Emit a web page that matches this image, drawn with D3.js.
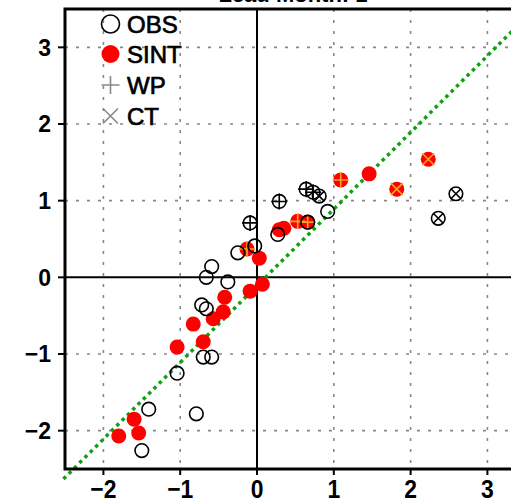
<!DOCTYPE html>
<html>
<head>
<meta charset="utf-8">
<script src="https://cdn.jsdelivr.net/npm/d3@7"></script>
<style>
  body { margin: 0; background: #fff; overflow: hidden; }
  text { font-family: "Liberation Sans", Arial, sans-serif; }
</style>
</head>
<body>
<div id="chart"></div>
<script>
// observed points: [x, y, marker]  ("" = none, "WP" = plus, "CT" = cross)
var obsX = [0.64, 0.73, 0.81, 0.29, 0.92, -0.09, 0.27, -0.03, -0.25, -0.59, -0.66, -0.38,
            -0.72, -0.66, -0.70, -0.59, -1.04, -1.41, -0.79, -1.50, 2.59, 2.36, 0.66];
var obsY = [1.15, 1.11, 1.06, 0.99, 0.86, 0.71, 0.56, 0.41, 0.32, 0.14, 0.00, -0.06,
            -0.36, -0.41, -1.04, -1.04, -1.25, -1.72, -1.78, -2.26, 1.09, 0.77, 0.72];
var obsMark = ["WP", "WP", "CT", "WP", "", "WP", "", "", "", "", "", "",
               "", "", "", "", "", "", "", "", "CT", "CT", ""];

var sintX = [-0.13, 0.03, 0.29, 0.35, 0.53, 0.66, 1.09, 1.46, 2.23, 1.82, -0.09, 0.07,
             -0.42, -0.44, -0.57, -0.83, -0.70, -1.04, -1.60, -1.54, -1.80];
var sintY = [0.37, 0.25, 0.62, 0.64, 0.73, 0.72, 1.27, 1.35, 1.54, 1.15, -0.18, -0.09,
             -0.26, -0.45, -0.54, -0.61, -0.84, -0.91, -1.85, -2.03, -2.07];
var sintMark = ["WP", "", "", "", "WP", "WP", "WP", "", "CT", "CT", "", "",
                "", "", "", "", "", "", "", "", ""];

var tickVals = [-2, -1, 0, 1, 2, 3];
var legendLabels = ["OBS", "SINT", "WP", "CT"];
var fitSlope = 1.0, fitIntercept = -0.11;
var fitRange = [-2.52, 3.6];
var title = "Lead Month: 1";

var W = 511, H = 502;
var svg = d3.select("#chart").append("svg")
  .attr("width", W).attr("height", H);

var x = d3.scaleLinear().domain([-2.5, 3.5]).range([65, 525.8]);
var y = d3.scaleLinear().domain([-2.5, 3.5]).range([469, 9]);

// title (mostly cut off at the top)
svg.append("text")
  .attr("x", 293).attr("y", 2)
  .attr("text-anchor", "middle")
  .attr("font-size", 22).attr("font-weight", "bold")
  .text(title);

// dotted grid
var grid = svg.append("g").attr("stroke", "#888").attr("stroke-width", 1.6)
  .attr("stroke-dasharray", "3,8");
grid.selectAll(".gx").data(tickVals.filter(function(d) { return d !== 0; }))
  .enter().append("line")
  .attr("x1", function(d) { return x(d); }).attr("x2", function(d) { return x(d); })
  .attr("y1", y(3.5)).attr("y2", y(-2.5));
grid.selectAll(".gy").data(tickVals.filter(function(d) { return d !== 0; }))
  .enter().append("line")
  .attr("y1", function(d) { return y(d); }).attr("y2", function(d) { return y(d); })
  .attr("x1", x(-2.5)).attr("x2", x(3.5));

// zero lines
svg.append("line").attr("x1", x(0)).attr("x2", x(0)).attr("y1", y(3.5)).attr("y2", y(-2.5))
  .attr("stroke", "#000").attr("stroke-width", 2);
svg.append("line").attr("y1", y(0)).attr("y2", y(0)).attr("x1", x(-2.5)).attr("x2", x(3.5))
  .attr("stroke", "#000").attr("stroke-width", 2);

// fit line
svg.append("line")
  .attr("x1", x(fitRange[0])).attr("y1", y(fitSlope * fitRange[0] + fitIntercept))
  .attr("x2", x(fitRange[1])).attr("y2", y(fitSlope * fitRange[1] + fitIntercept))
  .attr("stroke", "#10a010").attr("stroke-width", 3.5)
  .attr("stroke-dasharray", "3.5,4");

function plus(g, cx, cy, s, color) {
  g.append("path").attr("d", "M" + (cx - s) + "," + cy + "H" + (cx + s) + "M" + cx + "," + (cy - s) + "V" + (cy + s))
    .attr("stroke", color).attr("stroke-width", 1.6).attr("fill", "none");
}
function cross(g, cx, cy, s, color) {
  g.append("path").attr("d", "M" + (cx - s) + "," + (cy - s) + "L" + (cx + s) + "," + (cy + s) +
      "M" + (cx - s) + "," + (cy + s) + "L" + (cx + s) + "," + (cy - s))
    .attr("stroke", color).attr("stroke-width", 1.6).attr("fill", "none");
}

var pts = svg.append("g");
var sint = d3.range(sintX.length);
pts.selectAll(".sint").data(sint).enter().append("circle")
  .attr("cx", function(i) { return x(sintX[i]); })
  .attr("cy", function(i) { return y(sintY[i]); })
  .attr("r", 7.5).attr("fill", "#f00");
sint.forEach(function(i) {
  if (sintMark[i] === "WP") plus(pts, x(sintX[i]), y(sintY[i]), 8, "#f5a623");
  if (sintMark[i] === "CT") cross(pts, x(sintX[i]), y(sintY[i]), 6, "#f5a623");
});

var obs = d3.range(obsX.length);
pts.selectAll(".obs").data(obs).enter().append("circle")
  .attr("cx", function(i) { return x(obsX[i]); })
  .attr("cy", function(i) { return y(obsY[i]); })
  .attr("r", 6.8).attr("fill", "none").attr("stroke", "#000").attr("stroke-width", 1.6);
obs.forEach(function(i) {
  if (obsMark[i] === "WP") plus(pts, x(obsX[i]), y(obsY[i]), 8, "#000");
  if (obsMark[i] === "CT") cross(pts, x(obsX[i]), y(obsY[i]), 5, "#000");
});

// frame
svg.append("rect")
  .attr("x", x(-2.5)).attr("y", y(3.5))
  .attr("width", x(3.5) - x(-2.5)).attr("height", y(-2.5) - y(3.5))
  .attr("fill", "none").attr("stroke", "#000").attr("stroke-width", 3);

// ticks and labels
var axes = svg.append("g");
tickVals.forEach(function(v) {
  axes.append("line").attr("x1", x(-2.5) - 7).attr("x2", x(-2.5))
    .attr("y1", y(v)).attr("y2", y(v)).attr("stroke", "#000").attr("stroke-width", 2);
  axes.append("text").attr("x", 51).attr("y", y(v)).attr("dy", "0.36em")
    .attr("text-anchor", "end").attr("font-size", 23).attr("font-weight", "bold")
    .text(v < 0 ? "\u2212" + Math.abs(v) : v);
  axes.append("line").attr("y1", y(-2.5)).attr("y2", y(-2.5) + 6)
    .attr("x1", x(v)).attr("x2", x(v)).attr("stroke", "#000").attr("stroke-width", 2);
  axes.append("text")
    .attr("transform", "translate(" + x(v) + ",498) scale(0.88,1)")
    .attr("text-anchor", "middle").attr("font-size", 26).attr("font-weight", "bold")
    .text(v < 0 ? "\u2212" + Math.abs(v) : v);
});

// legend
var leg = svg.append("g");
var legY = [24, 54, 85, 116];
legendLabels.forEach(function(name, i) {
  var cx = 110.5, cy = legY[i];
  if (name === "OBS") leg.append("circle").attr("cx", cx).attr("cy", cy).attr("r", 9)
    .attr("fill", "none").attr("stroke", "#000").attr("stroke-width", 1.6);
  if (name === "SINT") leg.append("circle").attr("cx", cx).attr("cy", cy).attr("r", 9).attr("fill", "#f00");
  if (name === "WP") plus(leg, cx, cy, 9, "#888");
  if (name === "CT") cross(leg, cx, cy, 7.5, "#888");
  leg.append("text").attr("x", 127).attr("y", cy + 9)
    .attr("font-size", 24).attr("fill", "#000").attr("stroke", "#000").attr("stroke-width", 0.7)
    .text(name);
});
</script>
</body>
</html>
